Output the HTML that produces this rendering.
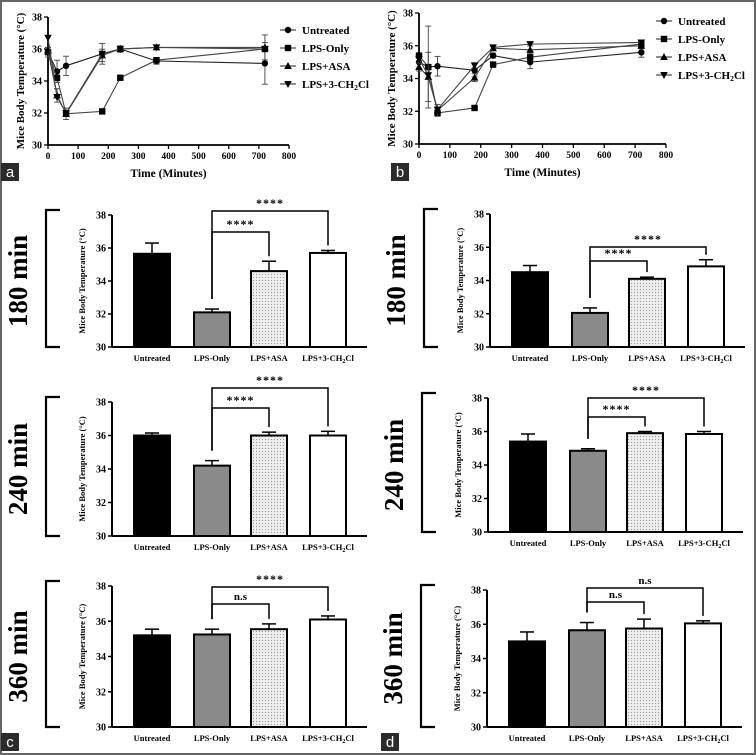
<!DOCTYPE html>
<html><head><meta charset="utf-8"><style>
html,body{margin:0;padding:0;background:#fff;}
svg{display:block;font-family:"Liberation Serif",serif;font-weight:bold;}
</style></head><body>
<svg id="fig" width="756" height="755" viewBox="0 0 756 755" xmlns="http://www.w3.org/2000/svg">
<rect x="1" y="1" width="754" height="753" fill="#fff" stroke="#666" stroke-width="2"/>
</svg>
<script>
// ---- time course data ----
const times = [0, 30, 60, 180, 240, 360, 720];
const seriesNames = ["Untreated", "LPS-Only", "LPS+ASA", "LPS+3-CH2Cl"];
const aUntreated = [35.8, 34.6, 34.95, 35.7, 36.0, 35.25, 35.1];
const aLpsOnly   = [35.8, 34.2, 31.95, 32.1, 34.2, 35.3, 36.0];
const aLpsAsa    = [35.9, 33.1, 31.95, 35.6, 36.0, 36.1, 36.1];
const aLpsCh2cl  = [36.7, 33.0, 32.0, 35.7, 36.0, 36.1, 36.0];
const aErr = [0.3, 0.7, 0.6, 0.65, 0.2, 0.2, 1.3];
const bUntreated = [35.0, 34.7, 34.75, 34.5, 35.4, 35.0, 35.6];
const bLpsOnly   = [35.4, 34.7, 31.9, 32.2, 34.85, 35.3, 36.1];
const bLpsAsa    = [34.7, 34.1, 32.05, 34.05, 35.85, 35.75, 36.0];
const bLpsCh2cl  = [35.2, 34.2, 32.1, 34.8, 35.9, 36.1, 36.2];
const bErr = [0.4, 2.5, 0.6, 0.4, 0.15, 0.4, 0.3];
const xTicks = [0, 100, 200, 300, 400, 500, 600, 700, 800];
const yTicks = [30, 32, 34, 36, 38];
// ---- bar data ----
const barCats = ["Untreated", "LPS-Only", "LPS+ASA", "LPS+3-CH2Cl"];
const c180 = [35.65, 32.1, 34.6, 35.7];   const c180Err = [0.65, 0.2, 0.6, 0.15];
const d180 = [34.5, 32.05, 34.1, 34.85];  const d180Err = [0.4, 0.3, 0.1, 0.4];
const c240 = [36.0, 34.2, 36.0, 36.0];    const c240Err = [0.15, 0.3, 0.2, 0.25];
const d240 = [35.4, 34.85, 35.9, 35.85];  const d240Err = [0.45, 0.12, 0.1, 0.15];
const c360 = [35.2, 35.25, 35.55, 36.1];  const c360Err = [0.35, 0.3, 0.3, 0.2];
const d360 = [35.0, 35.65, 35.75, 36.05]; const d360Err = [0.55, 0.45, 0.55, 0.15];
const sigC180 = ["****", "****"], sigD180 = ["****", "****"];
const sigC240 = ["****", "****"], sigD240 = ["****", "****"];
const sigC360 = ["n.s", "****"], sigD360 = ["n.s", "n.s"];

const svg = document.getElementById('fig');
const NS = "http://www.w3.org/2000/svg";
function mk(tag, attrs, parent, text) {
  const e = document.createElementNS(NS, tag);
  for (const k in attrs) e.setAttribute(k, attrs[k]);
  if (text !== undefined) e.textContent = text;
  (parent || svg).appendChild(e);
  return e;
}
function subLabel(t, parent, attrs) {
  const e = mk('text', attrs, parent);
  if (t.indexOf('CH2Cl') >= 0) {
    const parts = t.split('CH2Cl');
    e.appendChild(document.createTextNode(parts[0] + 'CH'));
    const s = document.createElementNS(NS, 'tspan');
    s.setAttribute('font-size', '0.7em'); s.setAttribute('dy', '2');
    s.textContent = '2';
    e.appendChild(s);
    const s2 = document.createElementNS(NS, 'tspan');
    s2.setAttribute('dy', '-2'); s2.textContent = 'Cl';
    e.appendChild(s2);
  } else e.textContent = t;
  return e;
}

function panelLabel(x, y, t) {
  const g = mk('g', {});
  
  
  mk('rect', {x: x, y: y, width: 18, height: 18, fill: '#2b2b2b'}, g);
  mk('text', {x: x + 9, y: y + 14, 'text-anchor': 'middle', fill: '#fff', 'font-family': 'Liberation Sans, sans-serif', 'font-weight': 'normal', 'font-size': 15}, g, t);
}

function timePlot(id, ox, x800, y38, y30, data, err, legX, legY) {
  const g = mk('g', {});
  
  
  const X = t => ox + t * (x800 - ox) / 800;
  const Y = v => y30 - (v - 30) * (y30 - y38) / 8;
  mk('line', {x1: ox, y1: y38, x2: ox, y2: y30, stroke: '#000', 'stroke-width': 1.8}, g);
  mk('line', {x1: ox, y1: y30, x2: x800, y2: y30, stroke: '#000', 'stroke-width': 1.8}, g);
  yTicks.forEach(v => {
    mk('line', {x1: ox - 4, y1: Y(v), x2: ox, y2: Y(v), stroke: '#000', 'stroke-width': 1.3}, g);
    mk('text', {x: ox - 6, y: Y(v) + 3.5, 'text-anchor': 'end', 'font-size': 10}, g, v);
  });
  xTicks.forEach(t => {
    mk('line', {x1: X(t), y1: y30, x2: X(t), y2: y30 + 4, stroke: '#000', 'stroke-width': 1.3}, g);
    mk('text', {x: X(t), y: y30 + 14, 'text-anchor': 'middle', 'font-size': 9.5}, g, t);
  });
  const yt = mk('text', {x: 0, y: 0, 'text-anchor': 'middle', 'font-size': 11, transform: `translate(${ox - 24},${(y38 + y30) / 2}) rotate(-90)`}, g, 'Mice Body Temperature (°C)');
  
  
  const xt = mk('text', {x: (ox + x800) / 2, y: y30 + 32, 'text-anchor': 'middle', 'font-size': 11.5}, g, 'Time (Minutes)');
  
  
  const marker = (k, x, y, gg) => {
    if (k === 0) mk('circle', {cx: x, cy: y, r: 3.2, fill: '#000'}, gg);
    else if (k === 1) mk('rect', {x: x - 3.2, y: y - 3.2, width: 6.4, height: 6.4, fill: '#000'}, gg);
    else if (k === 2) mk('polygon', {points: `${x},${y - 4} ${x - 3.8},${y + 3} ${x + 3.8},${y + 3}`, fill: '#000'}, gg);
    else mk('polygon', {points: `${x},${y + 4} ${x - 3.8},${y - 3} ${x + 3.8},${y - 3}`, fill: '#000'}, gg);
  };
  data.forEach((vals, k) => {
    const sg = mk('g', {}, g);
    
    
    const pts = vals.map((v, i) => X(times[i]) + ',' + Y(v)).join(' ');
    mk('polyline', {points: pts, fill: 'none', stroke: k === 0 ? '#222' : '#444', 'stroke-width': 1.1}, sg);
    vals.forEach((v, i) => {
      if (k === 0 || k === 2) {
        const e = err[i] * (k === 0 ? 1 : 0.6);
        mk('line', {x1: X(times[i]), y1: Y(v - e), x2: X(times[i]), y2: Y(v + e), stroke: '#444', 'stroke-width': 0.9}, sg);
        mk('line', {x1: X(times[i]) - 3, y1: Y(v + e), x2: X(times[i]) + 3, y2: Y(v + e), stroke: '#444', 'stroke-width': 0.9}, sg);
        mk('line', {x1: X(times[i]) - 3, y1: Y(v - e), x2: X(times[i]) + 3, y2: Y(v - e), stroke: '#444', 'stroke-width': 0.9}, sg);
      }
      marker(k, X(times[i]), Y(v), sg);
    });
  });
  seriesNames.forEach((n, k) => {
    const lg = mk('g', {}, g);
    
    
    const yy = legY + k * 18;
    mk('line', {x1: legX - 8, y1: yy, x2: legX + 8, y2: yy, stroke: '#333', 'stroke-width': 1.1}, lg);
    marker(k, legX, yy, lg);
    subLabel(n, lg, {x: legX + 14, y: yy + 4, 'font-size': 11});
  });
}

timePlot('a', 48, 289, 17, 145, [aUntreated, aLpsOnly, aLpsAsa, aLpsCh2cl], aErr, 288, 30);
timePlot('b', 419, 666, 13, 144, [bUntreated, bLpsOnly, bLpsAsa, bLpsCh2cl], bErr, 664, 21);
panelLabel(1, 163, 'a');
panelLabel(391, 163, 'b');

function barPlot(id, title, ox, y38, y30, vals, errs, sigs, sigY, leg) {
  const g = mk('g', {});
  
  
  const Y = v => y30 - (v - 30) * (y30 - y38) / 8;
  const offs = [40, 100, 157, 216];
  const BX = i => ox + offs[i];
  const bw = 36;
  // bracket & title
  const bx = ox - 66;
  mk('polyline', {points: `${bx + 14},${y38 - 5} ${bx},${y38 - 5} ${bx},${y30} ${bx + 14},${y30}`, fill: 'none', stroke: '#000', 'stroke-width': 2.2}, g);
  const tt = mk('text', {x: 0, y: 0, 'text-anchor': 'middle', 'font-size': 27, transform: `translate(${bx - 19},${(y38 + y30) / 2}) rotate(-90)`}, g, title);
  
  
  // axes
  mk('line', {x1: ox, y1: y38, x2: ox, y2: y30, stroke: '#000', 'stroke-width': 2}, g);
  mk('line', {x1: ox, y1: y30, x2: ox + 255, y2: y30, stroke: '#000', 'stroke-width': 2}, g);
  yTicks.forEach(v => {
    mk('line', {x1: ox - 4, y1: Y(v), x2: ox, y2: Y(v), stroke: '#000', 'stroke-width': 1.5}, g);
    mk('text', {x: ox - 6, y: Y(v) + 3.5, 'text-anchor': 'end', 'font-size': 10}, g, v);
  });
  const yt = mk('text', {x: 0, y: 0, 'text-anchor': 'middle', 'font-size': 8.5, transform: `translate(${ox - 27},${(y38 + y30) / 2}) rotate(-90)`}, g, 'Mice Body Temperature (°C)');
  
  
  const fills = ['#000', '#8a8a8a', 'url(#dots)', '#fff'];
  vals.forEach((v, i) => {
    const bg = mk('g', {}, g);
    
    
    const top = Y(v), e = Y(v + errs[i]);
    mk('line', {x1: BX(i), y1: top, x2: BX(i), y2: e, stroke: '#000', 'stroke-width': 1.5}, bg);
    mk('line', {x1: BX(i) - 7, y1: e, x2: BX(i) + 7, y2: e, stroke: '#000', 'stroke-width': 1.5}, bg);
    mk('rect', {x: BX(i) - bw / 2, y: top, width: bw, height: y30 - top, fill: fills[i], stroke: '#000', 'stroke-width': 2}, bg);
    subLabel(barCats[i], bg, {x: BX(i), y: y30 + 14, 'text-anchor': 'middle', 'font-size': 8.5});
  });
  // significance brackets
  const x1 = BX(1);
  const legs = [[Y(vals[1] + errs[1]) - 10], [Y(vals[2] + errs[2]) - 5, Y(vals[3] + errs[3]) - 5]];
  const ys = [sigY[1], sigY[0]];
  const sg = mk('g', {}, g);
  
  
  [2, 3].forEach((j, k) => {
    const yy = ys[k];
    const yl = Math.min(legs[1][k], Y(vals[j] + errs[j]) - 5);
    mk('polyline', {points: `${x1},${legs[0][0]} ${x1},${yy} ${BX(j)},${yy} ${BX(j)},${yl}`, fill: 'none', stroke: '#000', 'stroke-width': 1.5}, sg);
    const lab = sigs[k];
    mk('text', {x: (x1 + BX(j)) / 2, y: yy - 4, 'text-anchor': 'middle', 'font-size': lab === 'n.s' ? 11 : 12, 'letter-spacing': lab === 'n.s' ? 0 : 1}, sg, lab);
  });
}
const defs = mk('defs', {});
const pat = mk('pattern', {id: 'dots', width: 3, height: 3, patternUnits: 'userSpaceOnUse'}, defs);
mk('rect', {width: 3, height: 3, fill: '#ededed'}, pat);
mk('rect', {x: 1, y: 1, width: 1, height: 1, fill: '#999'}, pat);

barPlot('c-180', '180 min', 112, 215, 347, c180, c180Err, sigC180, [211, 232]);
barPlot('d-180', '180 min', 490, 214, 347, d180, d180Err, sigD180, [247, 261]);
barPlot('c-240', '240 min', 112, 402, 536, c240, c240Err, sigC240, [388, 408]);
barPlot('d-240', '240 min', 488, 398, 532, d240, d240Err, sigD240, [398, 417]);
barPlot('c-360', '360 min', 112, 586, 727, c360, c360Err, sigC360, [587, 604]);
barPlot('d-360', '360 min', 487, 590, 727, d360, d360Err, sigD360, [588, 602]);
panelLabel(1, 733, 'c');
panelLabel(381, 733, 'd');
</script>
</body></html>
